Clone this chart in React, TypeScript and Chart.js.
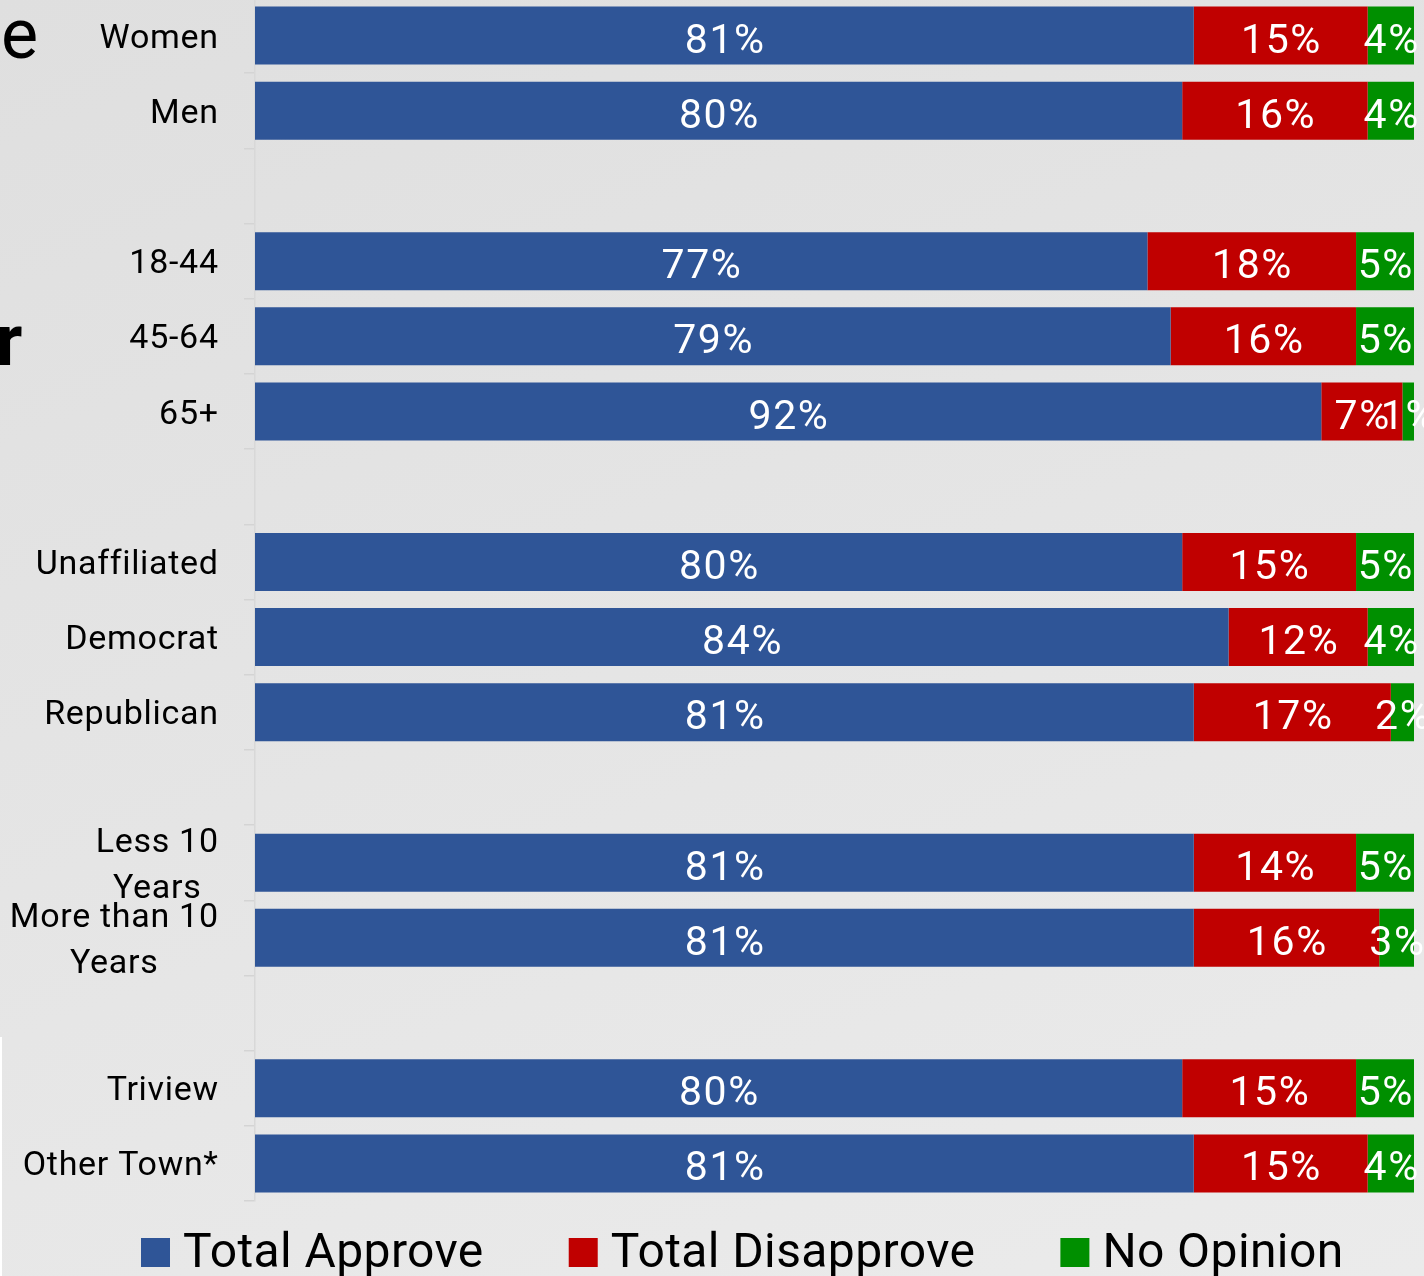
import React, { useEffect, useRef } from "react";
import { Chart, registerables } from "chart.js";

Chart.register(...registerables);

const categories: (string | string[])[] = [
  "Women",
  "Men",
  "",
  "18-44",
  "45-64",
  "65+",
  "",
  "Unaffiliated",
  "Democrat",
  "Republican",
  "",
  ["Less 10", "Years"],
  ["More than 10", "Years"],
  "",
  "Triview",
  "Other Town*",
];

const approve = [81, 80, null, 77, 79, 92, null, 80, 84, 81, null, 81, 81, null, 80, 81];
const disapprove = [15, 16, null, 18, 16, 7, null, 15, 12, 17, null, 14, 16, null, 15, 15];
const noOpinion = [4, 4, null, 5, 5, 1, null, 5, 4, 2, null, 5, 3, null, 5, 4];

const seriesNames = ["Total Approve", "Total Disapprove", "No Opinion"];
const seriesColors = ["#2F5597", "#C00000", "#008F00"];

const FONT = "Roboto, 'Noto Sans', sans-serif";

function setSpacing(ctx: any, px: number) {
  if ("letterSpacing" in ctx) ctx.letterSpacing = `${px}px`;
}

const drawPlugin = {
  id: "customDraw",
  afterDatasetsDraw(chart: any) {
    const ctx = chart.ctx;
    ctx.save();
    ctx.fillStyle = "#ffffff";
    ctx.font = `41px ${FONT}`;
    const sp = 1.6;
    setSpacing(ctx, sp);
    ctx.textAlign = "center";
    ctx.textBaseline = "alphabetic";
    chart.data.datasets.forEach((ds: any, di: number) => {
      const meta = chart.getDatasetMeta(di);
      meta.data.forEach((el: any, i: number) => {
        const v = ds.data[i];
        if (v === null || v === undefined) return;
        const p = el.getProps(["x", "y", "base"], true);
        const cx = (p.x + p.base) / 2 + sp / 2;
        ctx.fillText(`${v}%`, cx, p.y + 17);
      });
    });
    ctx.restore();
  },
  afterDraw(chart: any) {
    const ctx = chart.ctx;
    const yScale = chart.scales.y;
    const lsp = 0.7;
    const rightX = chart.chartArea.left - 37;
    ctx.save();
    ctx.fillStyle = "#000000";
    ctx.font = `34px ${FONT}`;
    setSpacing(ctx, lsp);
    ctx.textBaseline = "alphabetic";
    categories.forEach((lab, i) => {
      const cy = yScale.getPixelForValue(i);
      if (Array.isArray(lab)) {
        const w = Math.max(...lab.map((l) => ctx.measureText(l).width - lsp));
        const cx = rightX - w / 2 + lsp / 2;
        ctx.textAlign = "center";
        const lh = 46;
        const n = lab.length;
        lab.forEach((l, k) => {
          const yy = cy + (k - (n - 1) / 2) * lh + 12;
          ctx.fillText(l, cx, yy);
        });
      } else if (lab) {
        ctx.textAlign = "right";
        ctx.fillText(lab, rightX + lsp, cy + 12);
      }
    });

    // cut-off side letters at the left edge
    setSpacing(ctx, 0);
    ctx.textAlign = "left";
    ctx.font = `70px ${FONT}`;
    ctx.fillText("e", 1, 60);
    ctx.font = `bold 72px ${FONT}`;
    ctx.fillText("r", -4, 367);

    // legend
    ctx.font = `48px ${FONT}`;
    const gsp = 0.4;
    setSpacing(ctx, gsp);
    let x = 141;
    const boxTop = 1240;
    const baseline = 1269;
    seriesNames.forEach((name, i) => {
      ctx.fillStyle = seriesColors[i];
      ctx.fillRect(x, boxTop, 29, 29);
      ctx.fillStyle = "#000000";
      ctx.textAlign = "left";
      ctx.fillText(name, x + 42, baseline);
      x = x + 42 + ctx.measureText(name).width + 85;
    });
    ctx.restore();
  },
};

export default function App() {
  const ref = useRef<HTMLCanvasElement | null>(null);

  useEffect(() => {
    document.body.style.margin = "0";
    const canvas = ref.current;
    if (!canvas) return;
    const labels = categories.map((c) => (Array.isArray(c) ? c.join(" ") : c));
    const chart = new Chart(canvas, {
      type: "bar",
      data: {
        labels,
        datasets: [
          { label: seriesNames[0], data: approve as any, backgroundColor: seriesColors[0], borderWidth: 0 },
          { label: seriesNames[1], data: disapprove as any, backgroundColor: seriesColors[1], borderWidth: 0 },
          { label: seriesNames[2], data: noOpinion as any, backgroundColor: seriesColors[2], borderWidth: 0 },
        ],
      },
      options: {
        indexAxis: "y",
        responsive: false,
        animation: false,
        devicePixelRatio: 1,
        layout: { padding: { top: 0, right: 10, bottom: 75, left: 0 } },
        datasets: { bar: { barPercentage: 0.772, categoryPercentage: 1 } },
        scales: {
          x: {
            stacked: true,
            display: false,
            min: 0,
            max: 100,
          },
          y: {
            stacked: true,
            ticks: { display: false, autoSkip: false },
            grid: {
              display: true,
              drawOnChartArea: false,
              drawTicks: true,
              tickLength: 11,
              color: "#d4d4d4",
              lineWidth: 1.5,
              offset: true,
            },
            border: { display: true, color: "#d8d8d8", width: 1.5 },
            afterFit: (scale: any) => {
              scale.width = 255;
            },
          },
        },
        plugins: {
          legend: { display: false },
          tooltip: { enabled: false },
        },
      },
      plugins: [drawPlugin],
    });
    return () => chart.destroy();
  }, []);

  return (
    <div
      style={{
        position: "fixed",
        left: 0,
        top: 0,
        width: 1424,
        height: 1276,
        overflow: "hidden",
        background: "linear-gradient(160deg, #dfdfdf 0%, #e5e5e5 50%, #ebebeb 100%)",
      }}
    >
      <canvas
        ref={ref}
        width={1424}
        height={1278}
        style={{ position: "absolute", left: 0, top: -2, width: 1424, height: 1278 }}
      />
      <div
        style={{
          position: "absolute",
          left: 0,
          top: 1037,
          width: 2,
          height: 239,
          background: "#ffffff",
        }}
      />
    </div>
  );
}
